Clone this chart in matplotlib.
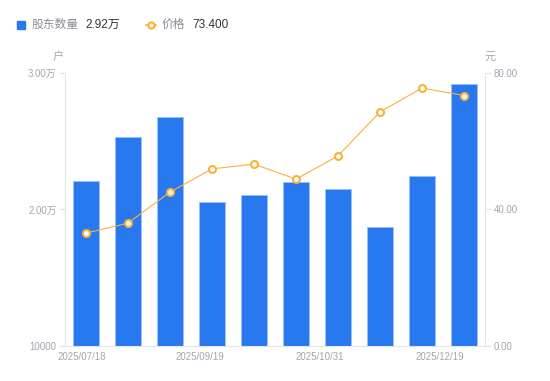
import matplotlib
matplotlib.use("Agg")
import matplotlib.pyplot as plt
from matplotlib.lines import Line2D
from matplotlib.patches import Rectangle

plt.rcParams["font.family"] = ["Liberation Sans", "Noto Sans CJK SC"]

# data
dates = ["2025/07/18", "2025/08/08", "2025/08/29", "2025/09/19", "2025/09/30",
         "2025/10/20", "2025/10/31", "2025/11/20", "2025/11/28", "2025/12/19"]
holders = [22090, 25310, 26780, 20550, 21060, 22020, 21500, 18720, 22450, 29200]
price = [33.1, 36.0, 45.1, 51.9, 53.3, 48.9, 55.7, 68.6, 75.6, 73.4]
shown_dates = [0, 3, 6, 9]

bar_color = "#2878f0"
line_color = "#f8b23a"
grey = "#a3a6b0"
axis_color = "#e3e4e8"

fig = plt.figure(figsize=(5.5, 3.81), dpi=100)
ax = fig.add_axes([0.1182, 0.0919, 0.7636, 0.7165])
ax2 = ax.twinx()

x = list(range(len(dates)))
ax.bar(x, holders, width=0.6, color=bar_color, edgecolor="#9cc0f7", linewidth=0.6,
       zorder=2)
ax2.plot(x, price, color=line_color, linewidth=0.8, marker="o", markersize=5,
         markerfacecolor="white", markeredgecolor=line_color, markeredgewidth=1.5,
         zorder=3)

ax.set_xlim(-0.5, len(dates) - 0.5)
ax.set_ylim(10000, 30000)
ax2.set_ylim(0, 80)
ax.set_yticks([10000, 20000, 30000])
ax.set_yticklabels(["10000", "2.00万", "3.00万"])
ax2.set_yticks([0, 40, 80])
ax2.set_yticklabels(["0.00", "40.00", "80.00"])

# echarts spreads the four labels evenly, not exactly under the bars
tick_pos = [-0.11, 2.71, 5.57, 8.43]
ax.set_xticks(tick_pos)
ax.set_xticklabels([dates[i] for i in shown_dates])

for a in (ax, ax2):
    for s in a.spines.values():
        s.set_visible(False)
    a.tick_params(axis="y", colors=axis_color, labelcolor=grey, labelsize=7,
                  length=4, width=0.8, pad=2)
ax.spines["left"].set_visible(True)
ax.spines["left"].set_color(axis_color)
ax.spines["bottom"].set_visible(True)
ax.spines["bottom"].set_color(axis_color)
ax2.spines["right"].set_visible(True)
ax2.spines["right"].set_color(axis_color)
ax.tick_params(axis="x", length=0, labelcolor=grey, labelsize=7, pad=4)

ax.text(-0.017, 1.04, "户", transform=ax.transAxes, ha="center", va="bottom",
        color=grey, fontsize=8)
ax2.text(1.012, 1.04, "元", transform=ax.transAxes, ha="center", va="bottom",
         color=grey, fontsize=8)

# legend
ly = 0.934
fig.add_artist(Rectangle((0.030, ly - 0.011), 0.015, 0.022,
                         transform=fig.transFigure, color=bar_color))
fig.text(0.057, ly, "股东数量", color="#8a8d96", fontsize=8.5, va="center")
fig.text(0.155, ly, "2.92万", color="#333333", fontsize=8.5, va="center")
fig.add_artist(Line2D([0.265, 0.283], [ly, ly], transform=fig.transFigure,
                      color=line_color, linewidth=1.2))
fig.add_artist(Line2D([0.274], [ly], transform=fig.transFigure, marker="o",
                      markersize=4.5, markerfacecolor="white",
                      markeredgecolor=line_color, markeredgewidth=1.5,
                      linestyle="none"))
fig.text(0.294, ly, "价格", color="#8a8d96", fontsize=8.5, va="center")
fig.text(0.349, ly, "73.400", color="#333333", fontsize=8.5, va="center")

fig.savefig("out.png", dpi=100)
